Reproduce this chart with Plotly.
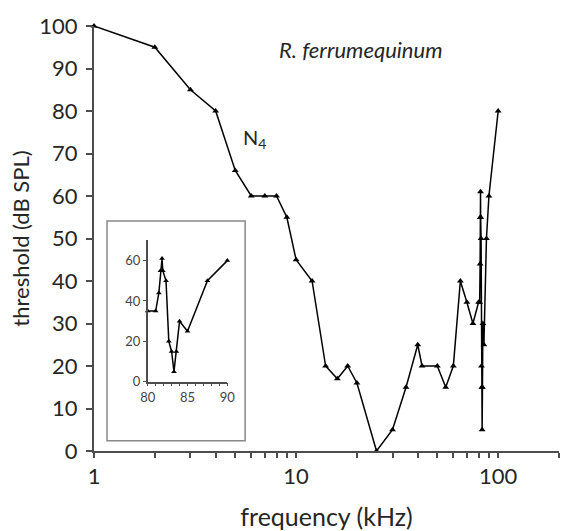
import plotly.graph_objects as go

# main curve (frequency kHz, threshold dB SPL)
freq_main = [1, 2, 3, 4, 5, 6, 7, 8, 9, 10, 12, 14, 16, 18, 20, 25, 30, 35, 40, 42,
             50, 55, 60, 65, 70, 75,
             80, 81, 81.4, 81.6, 81.8, 81.9, 82.3, 82.65, 83.0, 83.3, 83.6, 84.0, 85.0, 87.5, 90,
             100]
thr_main = [100, 95, 85, 80, 66, 60, 60, 60, 55, 45, 40, 20, 17, 20, 16, 0, 5, 15, 25, 20,
            20, 15, 20, 40, 35, 30,
            35, 35, 44, 55, 61, 55, 50, 20, 15, 5, 15, 30, 25, 50, 60,
            80]

# inset (80-90 kHz)
freq_inset = [80, 81, 81.4, 81.6, 81.8, 81.9, 82.3, 82.65, 83.0, 83.3, 83.6, 84.0, 85.0, 87.5, 90]
thr_inset = [35, 35, 44, 55, 61, 55, 50, 20, 15, 5, 15, 30, 25, 50, 60]

x_tickvals = [1, 2, 3, 4, 5, 6, 7, 8, 9, 10, 20, 30, 40, 50, 60, 70, 80, 90, 100, 200]
x_ticktext = ["1", "", "", "", "", "", "", "", "", "10", "", "", "", "", "", "", "", "", "100", ""]
y_tickvals = list(range(0, 101, 10))

inset_xvals = list(range(80, 91))
inset_xtext = ["80", "", "", "", "", "85", "", "", "", "", "90"]
inset_yvals = [0, 20, 40, 60]

FONT = "Lato, 'Open Sans', sans-serif"
AX = "#4d4d4d"
TXT = "#262626"

fig = go.Figure()
fig.add_trace(go.Scatter(x=freq_main, y=thr_main, mode="lines+markers",
                         line=dict(color="black", width=1.5),
                         marker=dict(symbol="triangle-up", size=6, color="black"),
                         cliponaxis=False, showlegend=False))
fig.add_trace(go.Scatter(x=freq_inset, y=thr_inset, mode="lines+markers",
                         xaxis="x2", yaxis="y2",
                         line=dict(color="black", width=1.5),
                         marker=dict(symbol="triangle-up", size=5, color="black"),
                         cliponaxis=False, showlegend=False))

fig.update_layout(
    width=561, height=531,
    margin=dict(l=94, r=2, t=26, b=80),
    paper_bgcolor="white", plot_bgcolor="white",
    font=dict(family=FONT, color=TXT),
    xaxis=dict(type="log", range=[0, 2.301], tickvals=x_tickvals, ticktext=x_ticktext,
               tickangle=0, automargin=False,
               ticks="outside", ticklen=5, tickwidth=1.5, tickcolor=AX,
               showline=True, linecolor=AX, linewidth=2, showgrid=False, zeroline=False,
               tickfont=dict(size=22, color=TXT),
               title=dict(text="frequency (kHz)", font=dict(size=25, color=TXT), standoff=20)),
    yaxis=dict(range=[0, 100], tickvals=y_tickvals, automargin=False,
               ticks="outside", ticklen=6, tickwidth=1.5, tickcolor=AX,
               showline=True, linecolor=AX, linewidth=2, showgrid=False, zeroline=False,
               tickfont=dict(size=22, color=TXT), ticklabelstandoff=4,
               title=dict(text="threshold (dB SPL)", font=dict(size=22, color=TXT), standoff=4)),
    xaxis2=dict(domain=[0.1155, 0.2867], anchor="y2", range=[80, 90],
                tickvals=inset_xvals, ticktext=inset_xtext, tickangle=0, automargin=False,
                ticks="outside", ticklen=3, tickwidth=1, tickcolor=AX,
                showline=True, linecolor=AX, linewidth=1.5, showgrid=False, zeroline=False,
                tickfont=dict(size=13, color="#444444")),
    yaxis2=dict(domain=[0.163, 0.4955], anchor="x2", range=[0, 70],
                tickvals=inset_yvals, automargin=False,
                ticks="outside", ticklen=3, tickwidth=1, tickcolor=AX,
                showline=True, linecolor=AX, linewidth=1.5, showgrid=False, zeroline=False,
                tickfont=dict(size=13, color="#444444")),
    shapes=[dict(type="rect", xref="paper", yref="paper", x0=0.028, x1=0.325, y0=0.024, y1=0.541,
                 line=dict(color="#888888", width=1.5), fillcolor="rgba(0,0,0,0)")],
    annotations=[
        dict(text="<i>R. ferrumequinum</i>", xref="x", yref="y", x=1.32, y=94.5,
             xanchor="center", yanchor="middle",
             showarrow=False, font=dict(size=22, color=TXT)),
        dict(text="N<sub>4</sub>", xref="x", yref="y", x=0.792, y=73.5,
             xanchor="center", yanchor="middle",
             showarrow=False, font=dict(size=20, color=TXT)),
    ],
)

fig.write_html("out.html")
